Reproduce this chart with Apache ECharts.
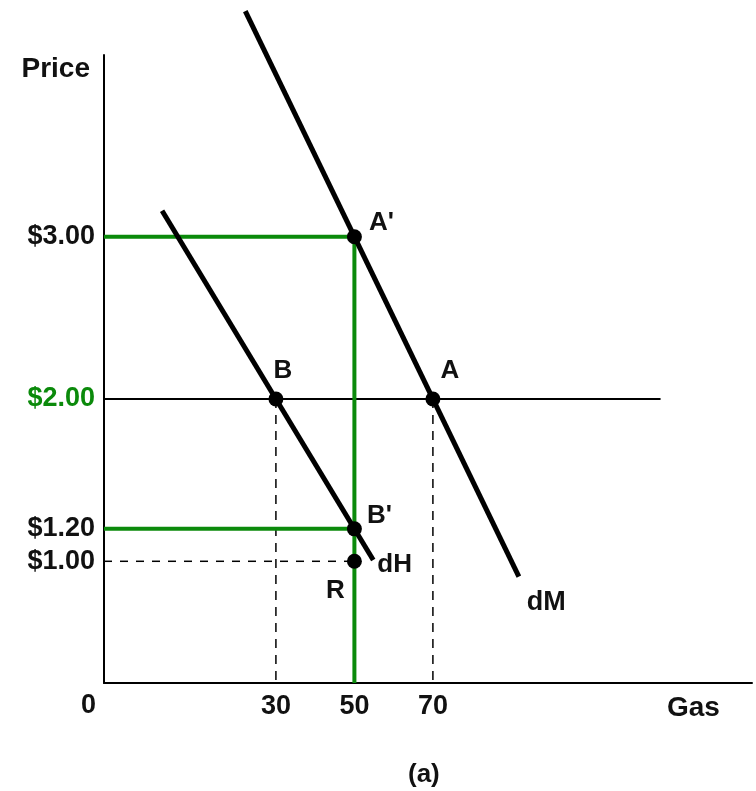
<!DOCTYPE html>
<html>
<head>
<meta charset="utf-8">
<script src="https://cdn.jsdelivr.net/npm/echarts@6/dist/echarts.min.js"></script>
<style>
  html, body { margin: 0; padding: 0; background: #fff; }
  #chart { width: 756px; height: 791px; }
</style>
</head>
<body>
<div id="chart"></div>
<script>
// tick labels
const quantityTicks = [30, 50, 70];
const priceTicks = [1.0, 1.2, 2.0, 3.0];
const greenQuantities = [30, 70];
const greenPrices = [2.0];

// labelled points
const pointNames = ["A'", 'A', 'B', "B'", 'R'];
const pointQty = [50, 70, 30, 50, 50];
const pointPrice = [3.0, 2.0, 2.0, 1.2, 1.0];

// demand curves (end points)
const dMCurve = [[22.2, 4.39], [91.9, 0.905]];
const dHCurve = [[1, 3.16], [54.8, 1.008]];

// price line and the quantities / prices picked out
const marketPrice = 2.0;
const marketLineEnd = 128;
const highPrice = 3.0;
const homePrice = 1.2;
const refPrice = 1.0;
const importQty = 50;

const xMin = -13.8, xMax = 151.3;
const yMin = 0.25, yMax = 4.12;

const FONT = 'Liberation Sans, Arial, sans-serif';
const GREEN = '#0b8a0b';

// label offsets for each point, px
const labelOffsets = [[27, -14], [17, -28], [7, -28], [25, -13], [-19, 30]];

const chart = echarts.init(document.getElementById('chart'));

const option = {
  animation: false,
  backgroundColor: '#fff',
  textStyle: { fontFamily: FONT },
  grid: { left: 104, right: 4, top: 55, bottom: 108 },
  title: {
    text: '(a)',
    left: 403,
    top: 757,
    textStyle: { fontFamily: FONT, fontSize: 26, fontWeight: 'bold', color: '#111' }
  },
  xAxis: {
    type: 'value',
    min: xMin,
    max: xMax,
    axisLine: { show: true, onZero: false, lineStyle: { color: '#000', width: 2 } },
    axisTick: { show: false },
    splitLine: { show: false },
    axisLabel: {
      customValues: quantityTicks,
      margin: 10,
      fontFamily: FONT,
      fontSize: 27,
      fontWeight: 'bold',
      color: function (v) { return greenQuantities.indexOf(v) >= 0 ? GREEN : '#111'; }
    }
  },
  yAxis: {
    type: 'value',
    min: yMin,
    max: yMax,
    name: 'Price',
    nameLocation: 'end',
    nameGap: -14,
    nameTextStyle: {
      fontFamily: FONT, fontSize: 28, fontWeight: 'bold', color: '#111',
      align: 'right', verticalAlign: 'middle', padding: [0, 14, 0, 0]
    },
    axisLine: { show: true, onZero: false, lineStyle: { color: '#000', width: 2 } },
    axisTick: { show: false },
    splitLine: { show: false },
    axisLabel: {
      customValues: priceTicks,
      margin: 9,
      fontFamily: FONT,
      fontSize: 27,
      fontWeight: 'bold',
      formatter: function (v) { return '$' + v.toFixed(2); },
      color: function (v) { return greenPrices.indexOf(Number(v)) >= 0 ? GREEN : '#111'; }
    }
  },
  graphic: [
    {
      type: 'text',
      left: 81,
      top: 692,
      style: { text: '0', font: 'bold 27px ' + FONT, fill: '#111' }
    },
    {
      type: 'text',
      left: 667,
      top: 694,
      style: { text: 'Gas', font: 'bold 28px ' + FONT, fill: '#111' }
    }
  ],
  series: [
    // world price line
    {
      type: 'line',
      data: [[xMin, marketPrice], [marketLineEnd, marketPrice]],
      symbol: 'none',
      lineStyle: { color: '#000', width: 2 },
      z: 2
    },
    // dashed guides
    {
      type: 'line',
      data: [[30, marketPrice], [30, yMin]],
      symbol: 'none',
      lineStyle: { color: '#000', width: 1.5, type: [9, 7] },
      z: 2
    },
    {
      type: 'line',
      data: [[70, marketPrice], [70, yMin]],
      symbol: 'none',
      lineStyle: { color: '#000', width: 1.5, type: [9, 7] },
      z: 2
    },
    {
      type: 'line',
      data: [[xMin, refPrice], [importQty, refPrice]],
      symbol: 'none',
      lineStyle: { color: '#000', width: 1.5, type: [8, 8] },
      z: 2
    },
    // green guides
    {
      type: 'line',
      data: [[xMin, highPrice], [importQty, highPrice], [importQty, yMin]],
      symbol: 'none',
      lineStyle: { color: GREEN, width: 4 },
      z: 3
    },
    {
      type: 'line',
      data: [[xMin, homePrice], [importQty, homePrice]],
      symbol: 'none',
      lineStyle: { color: GREEN, width: 4 },
      z: 3
    },
    // demand curves
    {
      type: 'line',
      data: dMCurve,
      symbol: 'none',
      clip: false,
      lineStyle: { color: '#000', width: 5 },
      endLabel: {
        show: true, formatter: 'dM', distance: 0, offset: [8, 26],
        fontFamily: FONT, fontSize: 27, fontWeight: 'bold', color: '#111'
      },
      z: 4
    },
    {
      type: 'line',
      data: dHCurve,
      symbol: 'none',
      clip: false,
      lineStyle: { color: '#000', width: 5 },
      endLabel: {
        show: true, formatter: 'dH', distance: 0, offset: [4, 5],
        fontFamily: FONT, fontSize: 26, fontWeight: 'bold', color: '#111'
      },
      z: 4
    },
    // points
    {
      type: 'scatter',
      symbolSize: 15,
      itemStyle: { color: '#000', opacity: 1 },
      z: 5,
      data: pointNames.map(function (n, i) {
        return {
          name: n,
          value: [pointQty[i], pointPrice[i]],
          label: {
            show: true,
            position: 'inside',
            offset: labelOffsets[i],
            formatter: n,
            fontFamily: FONT,
            fontSize: 26,
            fontWeight: 'bold',
            color: '#111',
            opacity: 1
          }
        };
      })
    }
  ]
};

chart.setOption(option);
</script>
</body>
</html>
